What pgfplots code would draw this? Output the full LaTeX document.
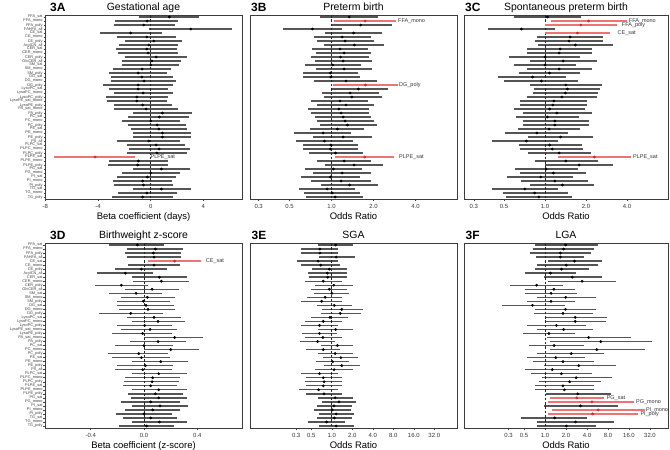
\documentclass[border=0pt]{standalone}
\usepackage{fontspec}
\setmainfont{Liberation Sans}
\usepackage{pgfplots}
\usepackage{pgfplotstable}
\pgfplotsset{compat=1.18}

\definecolor{barg}{RGB}{85,85,85}
\definecolor{redl}{RGB}{240,115,115}
\definecolor{redp}{RGB}{225,35,35}
\definecolor{frame}{RGB}{60,60,60}

% row est lo hi hl
\pgfplotstableread{
row est lo hi hl
1 1.42 -0.86 3.70 0
2 -0.28 -2.71 2.05 0
3 -0.53 -2.76 1.85 0
4 3.04 -0.13 6.17 0
5 -1.52 -3.85 0.84 0
6 -0.30 -2.53 1.92 0
7 0.23 -1.92 2.35 0
8 -0.15 -2.41 2.08 0
9 -0.30 -2.63 2.03 0
10 -0.20 -2.46 2.10 0
11 0.41 -1.95 2.73 0
12 0.08 -2.15 2.30 0
13 0.00 -2.20 2.18 0
14 -0.66 -2.89 1.57 0
15 -0.96 -3.14 1.27 0
16 -0.68 -3.00 1.72 0
17 -0.51 -3.00 1.90 0
18 -0.96 -3.65 1.72 0
19 -0.96 -3.20 1.29 0
20 -0.58 -2.78 1.70 0
21 -1.06 -3.39 1.32 0
22 -1.06 -3.29 1.22 0
23 -0.61 -2.76 1.65 0
24 -0.35 -2.76 2.10 0
25 0.89 -1.37 3.11 0
26 0.66 -1.75 2.94 0
27 0.00 -2.20 2.23 0
28 0.48 -1.75 2.68 0
29 0.61 -1.49 2.73 0
30 0.89 -1.32 3.06 0
31 0.89 -1.32 3.06 0
32 -0.15 -2.53 2.23 0
33 0.41 -1.77 2.61 0
34 0.63 -1.62 2.99 0
35 0.46 -1.82 2.73 0
36 -4.23 -7.34 -1.19 1
37 -0.94 -3.16 1.34 0
38 -0.99 -3.27 1.29 0
39 0.81 -1.32 2.99 0
40 0.00 -2.20 2.23 0
41 -0.25 -2.58 1.92 0
42 -0.61 -2.84 1.59 0
43 -0.56 -2.76 1.67 0
44 0.81 -1.32 3.06 0
45 -0.30 -2.51 1.97 0
46 -0.61 -2.96 1.72 0
}\tabA

\pgfplotstableread{
row est lo hi hl
1 1.34 0.82 2.17 0
2 1.74 1.045 2.90 1
3 1.62 0.99 2.70 0
4 0.73 0.45 1.19 0
5 1.44 0.90 2.32 0
6 1.19 0.75 1.91 0
7 1.25 0.79 2.02 0
8 1.46 0.89 2.38 0
9 1.15 0.73 1.82 0
10 1.23 0.78 1.91 0
11 1.16 0.71 1.86 0
12 1.21 0.76 1.94 0
13 1.02 0.64 1.62 0
14 1.23 0.77 1.94 0
15 0.98 0.62 1.56 0
16 0.99 0.62 1.60 0
17 1.27 0.75 2.11 0
18 1.75 1.03 2.99 1
19 1.56 0.99 2.56 0
20 1.36 0.85 2.20 0
21 1.40 0.88 2.32 0
22 1.15 0.71 1.84 0
23 1.27 0.79 2.02 0
24 1.13 0.68 1.87 0
25 1.17 0.71 1.87 0
26 1.21 0.76 1.91 0
27 1.25 0.79 2.02 0
28 1.30 0.82 2.11 0
29 1.10 0.70 1.72 0
30 0.87 0.54 1.38 0
31 1.21 0.74 1.94 0
32 0.89 0.56 1.42 0
33 0.99 0.62 1.56 0
34 0.98 0.62 1.54 0
35 1.07 0.69 1.68 0
36 1.73 1.06 2.83 1
37 1.23 0.79 1.92 0
38 1.45 0.90 2.33 0
39 1.03 0.65 1.65 0
40 1.19 0.74 1.91 0
41 0.98 0.60 1.60 0
42 1.17 0.71 1.91 0
43 1.35 0.84 2.17 0
44 0.93 0.58 1.48 0
45 1.01 0.63 1.60 0
46 1.06 0.66 1.68 0
}\tabB

\pgfplotstableread{
row est lo hi hl
1 1.04 0.59 1.84 0
2 2.09 1.11 3.98 1
3 1.83 1.00 3.40 1
4 0.67 0.38 1.18 0
5 1.73 1.00 3.00 1
6 1.53 0.87 2.65 0
7 1.50 0.85 2.65 0
8 1.67 0.89 3.14 0
9 1.29 0.74 2.20 0
10 1.27 0.74 2.20 0
11 1.00 0.54 1.81 0
12 1.36 0.78 2.39 0
13 1.00 0.59 1.69 0
14 1.27 0.74 2.20 0
15 1.08 0.64 1.81 0
16 0.81 0.45 1.42 0
17 0.94 0.50 1.74 0
18 1.42 0.77 2.63 0
19 1.46 0.83 2.53 0
20 1.41 0.81 2.44 0
21 1.33 0.74 2.39 0
22 1.16 0.66 2.02 0
23 1.14 0.66 2.02 0
24 1.08 0.59 1.97 0
25 1.22 0.69 2.20 0
26 1.04 0.61 1.79 0
27 1.18 0.69 2.10 0
28 1.18 0.69 2.10 0
29 1.07 0.63 1.81 0
30 0.87 0.51 1.47 0
31 1.30 0.75 2.26 0
32 0.73 0.41 1.25 0
33 1.08 0.64 1.86 0
34 1.13 0.66 1.91 0
35 1.27 0.75 2.16 0
36 2.30 1.25 4.28 1
37 1.42 0.84 2.46 0
38 1.78 1.00 3.17 0
39 1.02 0.60 1.74 0
40 1.15 0.66 1.99 0
41 0.93 0.53 1.61 0
42 1.18 0.67 2.06 0
43 1.34 0.78 2.30 0
44 0.71 0.41 1.24 0
45 0.84 0.49 1.47 0
46 0.90 0.52 1.57 0
}\tabC

\pgfplotstableread{
row est lo hi hl
1 -0.050 -0.260 0.150 0
2 0.085 -0.130 0.295 0
3 0.070 -0.140 0.280 0
4 0.075 -0.130 0.280 0
5 0.230 0.030 0.430 1
6 0.075 -0.120 0.270 0
7 -0.020 -0.220 0.170 0
8 -0.140 -0.350 0.065 0
9 0.115 -0.090 0.320 0
10 0.130 -0.080 0.340 0
11 -0.170 -0.370 0.030 0
12 0.060 -0.140 0.260 0
13 -0.060 -0.260 0.135 0
14 0.025 -0.175 0.230 0
15 -0.005 -0.205 0.195 0
16 0.015 -0.200 0.225 0
17 0.030 -0.185 0.230 0
18 -0.100 -0.340 0.145 0
19 0.075 -0.130 0.280 0
20 0.105 -0.090 0.310 0
21 0.005 -0.200 0.210 0
22 0.045 -0.170 0.250 0
23 -0.010 -0.240 0.210 0
24 0.230 0.000 0.445 0
25 0.105 -0.105 0.315 0
26 0.000 -0.220 0.215 0
27 0.200 0.000 0.415 0
28 -0.040 -0.270 0.180 0
29 -0.020 -0.240 0.195 0
30 0.125 -0.090 0.330 0
31 0.010 -0.205 0.220 0
32 -0.010 -0.220 0.210 0
33 0.110 -0.090 0.320 0
34 0.065 -0.140 0.270 0
35 0.060 -0.150 0.260 0
36 0.050 -0.155 0.250 0
37 0.110 -0.090 0.320 0
38 0.085 -0.120 0.295 0
39 0.110 -0.100 0.320 0
40 0.050 -0.170 0.270 0
41 0.120 -0.090 0.330 0
42 0.065 -0.140 0.270 0
43 0.000 -0.210 0.210 0
44 0.050 -0.155 0.250 0
45 0.115 -0.090 0.320 0
46 0.020 -0.190 0.225 0
}\tabD

\pgfplotstableread{
row est lo hi hl
1 1.14 0.62 2.08 0
2 0.67 0.35 1.25 0
3 0.67 0.35 1.25 0
4 1.16 0.65 2.20 0
5 0.63 0.31 1.25 0
6 0.69 0.35 1.33 0
7 0.92 0.52 1.70 0
8 0.86 0.45 1.66 0
9 0.87 0.46 1.66 0
10 0.75 0.41 1.40 0
11 1.07 0.56 2.03 0
12 0.92 0.49 1.70 0
13 1.00 0.54 1.82 0
14 0.80 0.44 1.43 0
15 0.71 0.35 1.43 0
16 1.09 0.61 1.97 0
17 1.40 0.71 2.85 0
18 1.33 0.69 2.66 0
19 0.94 0.50 1.76 0
20 0.75 0.41 1.40 0
21 0.66 0.35 1.22 0
22 1.14 0.62 2.08 0
23 0.66 0.37 1.21 0
24 0.74 0.40 1.43 0
25 0.62 0.34 1.12 0
26 1.21 0.69 2.08 0
27 0.75 0.42 1.33 0
28 1.12 0.62 2.08 0
29 1.36 0.74 2.46 0
30 1.03 0.59 1.82 0
31 1.40 0.78 2.60 0
32 1.08 0.56 2.03 0
33 0.66 0.35 1.22 0
34 0.75 0.42 1.40 0
35 0.77 0.41 1.43 0
36 0.75 0.42 1.40 0
37 0.64 0.33 1.25 0
38 0.77 0.42 1.43 0
39 1.12 0.62 2.08 0
40 1.28 0.71 2.28 0
41 1.08 0.60 2.01 0
42 1.02 0.54 1.92 0
43 1.16 0.64 2.13 0
44 1.09 0.60 1.97 0
45 0.84 0.45 1.57 0
46 1.16 0.64 2.13 0
}\tabE

\pgfplotstableread{
row est lo hi hl
1 1.98 0.72 5.66 0
2 1.85 0.67 5.08 0
3 1.66 0.61 4.55 0
4 1.66 0.75 3.67 0
5 2.65 1.11 6.53 0
6 2.02 0.76 5.66 0
7 1.72 0.71 4.22 0
8 1.20 0.52 2.80 0
9 2.46 0.97 6.53 0
10 3.40 1.11 10.5 0
11 0.76 0.31 1.81 0
12 1.34 0.51 2.65 0
13 1.22 0.52 2.89 0
14 1.98 0.76 5.35 0
15 1.22 0.56 2.65 0
16 0.66 0.24 1.92 0
17 1.96 0.72 5.47 0
18 1.81 0.70 4.80 0
19 2.71 1.00 7.80 0
20 2.71 1.02 7.40 0
21 1.46 0.56 3.87 0
22 1.85 0.76 4.80 0
23 1.14 0.49 2.65 0
24 4.22 1.08 17.2 0
25 6.30 1.18 34.5 0
26 1.35 0.58 3.59 0
27 5.53 1.18 27.2 0
28 2.38 0.78 7.10 0
29 1.43 0.55 3.79 0
30 1.81 0.67 4.97 0
31 3.05 0.97 10.3 0
32 1.27 0.51 3.12 0
33 1.72 0.63 4.70 0
34 2.80 0.90 9.00 0
35 2.25 0.81 6.40 0
36 1.81 0.72 4.97 0
37 1.90 0.72 4.97 0
38 2.95 1.03 8.70 0
39 2.86 1.18 6.90 1
40 4.70 1.11 19.0 1
41 3.22 0.98 11.2 0
42 5.78 1.27 27.2 1
43 4.80 1.11 21.5 1
44 1.38 0.46 4.00 0
45 2.74 0.76 9.90 0
46 2.02 0.76 5.35 0
}\tabF

\tikzset{ann/.style={anchor=west, font=\fontsize{5.5}{6}\selectfont, text=black!80, inner sep=1pt}}

\pgfplotsset{
  every axis title shift=0pt,
  fp/.style={
    scale only axis,
    y dir=reverse, ymin=0.5, ymax=46.5,
    axis line style={draw=frame, line width=0.8pt},
    tick align=outside, major tick length=2bp,
    tick style={frame, line width=0.5pt},
    xtick pos=bottom, ytick pos=left,
    x tick label style={font=\fontsize{6}{6}\selectfont, text=black!80},
    title style={font=\fontsize{10.5}{11}\selectfont, at={(0.5,1)}, anchor=base, yshift=5bp},
    xlabel style={font=\fontsize{9.5}{10}\selectfont, at={(axis description cs:0.5,0)}, anchor=base, yshift=-20bp},
    clip=false,
  },
  noy/.style={ytick=\empty},
  withy/.style={
    ytick={1,...,46},
    yticklabels={FFA\_sat,FFA\_mono,FFA\_poly,FAHFA\_all,CE\_sat,CE\_mono,CE\_poly,AcylCN\_all,CER\_sat,CER\_mono,CER\_poly,GlcCER\_all,SM\_sat,SM\_mono,SM\_poly,DG\_sat,DG\_mono,DG\_poly,LysoPC\_sat,LysoPC\_mono,LysoPC\_poly,LysoPE\_sat\_mono,LysoPE\_poly,PA\_sat\_mono,PA\_poly,PC\_sat,PC\_mono,PC\_poly,PE\_sat,PE\_mono,PE\_poly,PS\_all,PLPC\_sat,PLPC\_mono,PLPC\_poly,PLPE\_sat,PLPE\_mono,PLPE\_poly,PG\_sat,PG\_mono,PI\_sat,PI\_mono,PI\_poly,TG\_sat,TG\_mono,TG\_poly},
    y tick label style={font=\fontsize{3.9}{4}\selectfont, text=black!75, inner sep=0.8pt},
    major tick length=1.5bp,
  },
}

\newcommand{\forest}[2]{%
  \addplot[only marks, mark=*, mark size=1.2bp, black,
    restrict expr to domain={\thisrow{hl}}{0:0},
    error bars/.cd, x dir=both, x explicit, error mark=none,
    error bar style={line width=1.4bp, barg}]
    table[x=est, y=row, x error plus expr=\thisrow{hi}-\thisrow{est},
          x error minus expr=\thisrow{est}-\thisrow{lo}] {#1};
  \addplot[black!85, dashed, dash pattern=on 2.5bp off 1.8bp, line width=0.6pt] coordinates {(#2,0.5) (#2,46.5)};
}
\newcommand{\forestred}[1]{%
  \addplot[only marks, mark=*, mark size=1.2bp, redp,
    restrict expr to domain={\thisrow{hl}}{1:1},
    error bars/.cd, x dir=both, x explicit, error mark=none,
    error bar style={line width=1.4bp, redl}]
    table[x=est, y=row, x error plus expr=\thisrow{hi}-\thisrow{est},
          x error minus expr=\thisrow{est}-\thisrow{lo}] {#1};
}

\begin{document}
\begin{tikzpicture}
\useasboundingbox (0,0) rectangle (670bp,-450bp);

% 3A
\begin{axis}[fp, withy, at={(45bp,-15bp)}, anchor=north west,
  width=197bp, height=184bp, xmin=-8.03, xmax=6.93,
  xtick={-8,-4,0,4}, xticklabels={-8,-4,0,4},
  title={Gestational age}, xlabel={Beta coefficient (days)}]
  \forest{\tabA}{0}
  \forestred{\tabA}
  \node[ann] at (axis cs:-0.1,36) {PLPE\_sat};
\end{axis}

% 3B
\begin{axis}[fp, noy, xmode=log, at={(250bp,-15bp)}, anchor=north west,
  width=207bp, height=184bp, xmin=0.26, xmax=7.95,
  xtick={0.3,0.5,1,2,4}, xticklabels={0.3,0.5,1.0,2.0,4.0},
  title={Preterm birth}, xlabel={Odds Ratio}]
  \forest{\tabB}{1}
  \forestred{\tabB}
  \node[ann] at (axis cs:2.95,2) {FFA\_mono};
  \node[ann] at (axis cs:3.0,18) {DG\_poly};
  \node[ann] at (axis cs:3.0,36) {PLPE\_sat};
\end{axis}

% 3C
\begin{axis}[fp, noy, xmode=log, at={(464bp,-15bp)}, anchor=north west,
  width=204bp, height=184bp, xmin=0.254, xmax=8.0,
  xtick={0.3,0.5,1,2,4}, xticklabels={0.3,0.5,1.0,2.0,4.0},
  title={Spontaneous preterm birth}, xlabel={Odds Ratio}]
  \forest{\tabC}{1}
  \forestred{\tabC}
  \node[ann] at (axis cs:4.05,2) {FFA\_mono};
  \node[ann] at (axis cs:3.6,3) {FFA\_poly};
  \node[ann] at (axis cs:3.35,5) {CE\_sat};
  \node[ann] at (axis cs:4.35,36) {PLPE\_sat};
\end{axis}

% 3D
\begin{axis}[fp, withy, at={(45bp,-243bp)}, anchor=north west,
  width=197bp, height=185bp, xmin=-0.743, xmax=0.735,
  xtick={-0.4,0,0.4}, xticklabels={-0.4,0.0,0.4},
  title={Birthweight z-score}, xlabel={Beta coefficient (z-score)}]
  \forest{\tabD}{0}
  \forestred{\tabD}
  \node[ann] at (axis cs:0.455,5) {CE\_sat};
\end{axis}

% 3E
\begin{axis}[fp, noy, xmode=log, at={(250bp,-243bp)}, anchor=north west,
  width=207bp, height=185bp, xmin=0.063, xmax=69,
  xtick={0.3,0.5,1,2,4,8,16,32}, xticklabels={0.3,0.5,1.0,2.0,4.0,8.0,16.0,32.0},
  title={SGA}, xlabel={Odds Ratio}]
  \forest{\tabE}{1}
\end{axis}

% 3F
\begin{axis}[fp, noy, xmode=log, at={(464bp,-243bp)}, anchor=north west,
  width=204bp, height=185bp, xmin=0.069, xmax=58,
  xtick={0.3,0.5,1,2,4,8,16,32}, xticklabels={0.3,0.5,1.0,2.0,4.0,8.0,16.0,32.0},
  title={LGA}, xlabel={Odds Ratio}]
  \forest{\tabF}{1}
  \forestred{\tabF}
  \node[ann] at (axis cs:7.4,39) {PG\_sat};
  \node[ann] at (axis cs:19.5,40) {PG\_mono};
  \node[ann] at (axis cs:27,42) {PI\_mono};
  \node[ann] at (axis cs:22.5,43) {PI\_poly};
\end{axis}

% panel ids
\foreach \lab/\x/\y in {3A/50/11.7, 3B/251/11.7, 3C/465/11.7, 3D/50/239.5, 3E/251.5/239.5, 3F/465.5/239.5}{
  \node[anchor=base west, inner sep=0pt, font=\bfseries\fontsize{12}{12}\selectfont] at (\x bp,-\y bp) {\lab};
}
\end{tikzpicture}
\end{document}
